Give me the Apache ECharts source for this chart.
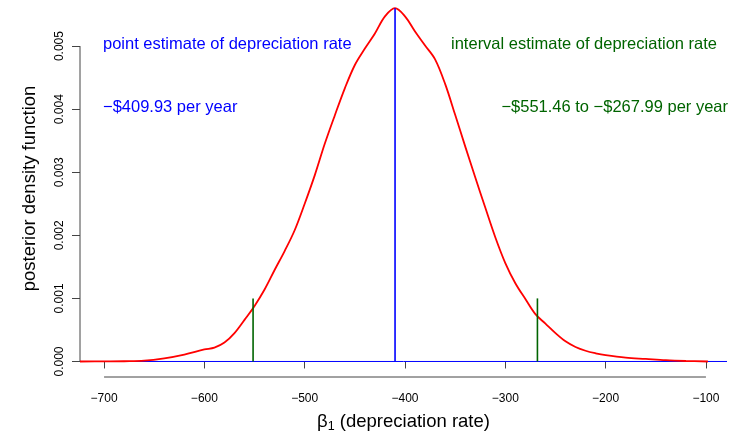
<!DOCTYPE html>
<html><head><meta charset="utf-8">
<script src="https://cdn.jsdelivr.net/npm/echarts@6/dist/echarts.min.js"></script>
<style>html,body{margin:0;padding:0;background:#fff}#c{width:742px;height:438px}</style>
</head><body><div id="c"></div>
<script>
// posterior density of beta_1
const xValues = [-724,-700,-680,-660,-640,-620,-600,-590,-580,-570,-560,-550,-540,-530,-520,-510,-500,-490,-480,-470,-460,-450,-440,-430,-420,-410,-400,-390,-380,-370,-360,-350,-340,-330,-320,-310,-300,-290,-280,-270,-260,-250,-240,-230,-220,-210,-200,-180,-160,-140,-120,-98];
const densityValues = [0,0.000002,0.000004,0.000012,0.00005,0.00011,0.00019,0.00022,0.0003,0.00045,0.00066,0.00088,0.00114,0.00145,0.00175,0.00208,0.0025,0.00295,0.00345,0.0039,0.00433,0.0047,0.00496,0.0052,0.00547,0.0056,0.00547,0.00523,0.00501,0.00479,0.0044,0.00391,0.00341,0.00292,0.00244,0.00197,0.00156,0.00124,0.00099,0.00075,0.0006,0.00045,0.00032,0.00023,0.00017,0.00013,0.0001,0.00006,0.00004,0.00002,0.000008,0];
const xTicks = [-700,-600,-500,-400,-300,-200,-100];
const yTicks = [0,0.001,0.002,0.003,0.004,0.005];
const pointEstimate = -409.93;
const pointDensity = 0.0056;
const intervalLow = -551.46;
const intervalHigh = -267.99;
const intervalMarkHeight = 0.001;
const xMin = -724, xMax = -79, yMin = -0.000246, yMax = 0.00573;
const texts = {
  pointTitle: 'point estimate of depreciation rate',
  pointValue: '\u2212$409.93 per year',
  intervalTitle: 'interval estimate of depreciation rate',
  intervalValue: '\u2212$551.46 to \u2212$267.99 per year'
};

const FONT = '"Liberation Sans", Arial, Helvetica, sans-serif';
const chart = echarts.init(document.getElementById('c'), null, {renderer: 'canvas'});
const curve = xValues.map((x, i) => [x, densityValues[i]]);
function seg(data, color, width, z) {
  return {type: 'line', data: data, symbol: 'none', clip: false, silent: true, animation: false,
    lineStyle: {color: color, width: width}, z: z};
}
const BLUE = '#0000ff', GREEN = '#006400', RED = '#ff0000', AXIS = '#444';
chart.setOption({
  animation: false,
  backgroundColor: '#fff',
  grid: {left: 80, right: 15, top: 0, bottom: 61},
  xAxis: {
    type: 'value', min: xMin, max: xMax,
    axisLine: {show: false}, splitLine: {show: false},
    axisTick: {show: true, customValues: xTicks, length: 7, lineStyle: {color: AXIS, width: 1}},
    axisLabel: {customValues: xTicks, margin: 16, fontFamily: FONT, fontSize: 12, color: '#000',
      formatter: v => String(v).replace('-', '\u2212')},
    name: '{b|\u03b2}{s|1} (depreciation rate)',
    nameLocation: 'middle', nameGap: 34,
    nameTextStyle: {fontFamily: FONT, fontSize: 18.5, color: '#000',
      rich: {b: {fontFamily: FONT, fontSize: 18.5, color: '#000'},
             s: {fontFamily: FONT, fontSize: 12.5, color: '#000', verticalAlign: 'bottom', padding: [9, 0, 0, 0]}}}
  },
  yAxis: {
    type: 'value', min: yMin, max: yMax,
    axisLine: {show: false}, splitLine: {show: false},
    axisTick: {show: true, customValues: yTicks, length: 8, lineStyle: {color: AXIS, width: 1}},
    axisLabel: {customValues: yTicks, margin: 14, rotate: 90, fontFamily: FONT, fontSize: 12, color: '#000',
      formatter: v => v.toFixed(3)},
    name: 'posterior density function',
    nameLocation: 'middle', nameGap: 41,
    nameTextStyle: {fontFamily: FONT, fontSize: 18.5, color: '#000'}
  },
  series: [
    seg([[xMin, yTicks[0]], [xMin, yTicks[yTicks.length - 1]]], AXIS, 1, 1),
    seg([[xTicks[0], yMin], [xTicks[xTicks.length - 1], yMin]], AXIS, 1, 1),
    seg([[xMin, 0], [xMax, 0]], BLUE, 1, 2),
    Object.assign(seg(curve, RED, 1.8, 3), {smooth: 0.35, clip: true}),
    seg([[pointEstimate, 0], [pointEstimate, pointDensity]], BLUE, 1.6, 4),
    seg([[intervalLow, 0], [intervalLow, intervalMarkHeight]], GREEN, 1.6, 4),
    seg([[intervalHigh, 0], [intervalHigh, intervalMarkHeight]], GREEN, 1.6, 4)
  ],
  graphic: [
    {type: 'text', left: 103, top: 36, style: {text: texts.pointTitle, fill: BLUE, font: '16.5px ' + FONT}},
    {type: 'text', left: 103, top: 99, style: {text: texts.pointValue, fill: BLUE, font: '16.5px ' + FONT}},
    {type: 'text', right: 742 - 717, top: 36, style: {text: texts.intervalTitle, fill: GREEN, font: '16.5px ' + FONT}},
    {type: 'text', right: 742 - 728, top: 99, style: {text: texts.intervalValue, fill: GREEN, font: '16.5px ' + FONT}}
  ]
});
</script></body></html>
